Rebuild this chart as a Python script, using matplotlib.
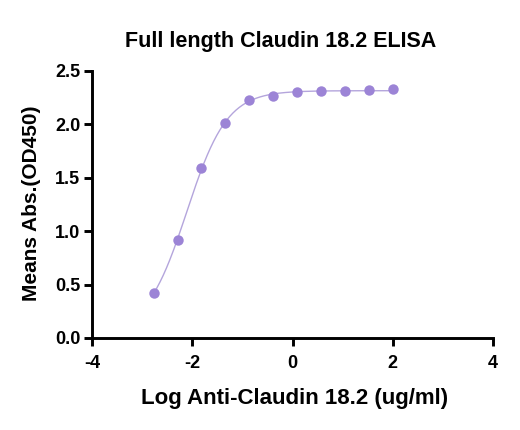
import numpy as np
import matplotlib
matplotlib.use("Agg")
import matplotlib.pyplot as plt

plt.rcParams['font.family'] = ['Liberation Sans', 'DejaVu Sans']
plt.rcParams['font.weight'] = 'bold'

title = "Full length Claudin 18.2 ELISA"
xlabel = "Log Anti-Claudin 18.2 (ug/ml)"
ylabel = "Means Abs.(OD450)"

log_conc = [-2.770, -2.293, -1.816, -1.339, -0.862, -0.385, 0.092, 0.569, 1.046, 1.523, 2.000]
od450 = [0.42, 0.92, 1.59, 2.01, 2.23, 2.27, 2.30, 2.31, 2.31, 2.32, 2.33]

x_ticks = [-4, -2, 0, 2, 4]
y_ticks = [0.0, 0.5, 1.0, 1.5, 2.0, 2.5]

x = np.array(log_conc)
y = np.array(od450)


def fourpl(xx, p):
    bottom, top, logec50, hill = p
    return bottom + (top - bottom) / (1 + 10 ** ((logec50 - xx) * hill))


# simple Gauss-Newton least-squares fit of a 4PL curve
p = np.array([0.0, 2.3, -2.0, 1.2])
for _ in range(200):
    r = y - fourpl(x, p)
    J = np.zeros((len(x), 4))
    for i in range(4):
        dp = np.zeros(4)
        dp[i] = 1e-6
        J[:, i] = (fourpl(x, p + dp) - fourpl(x, p - dp)) / 2e-6
    step, *_ = np.linalg.lstsq(J, r, rcond=None)
    p = p + 0.5 * step

xf = np.linspace(x.min(), x.max(), 300)

fig = plt.figure(figsize=(5.2, 4.3), dpi=100)
ax = fig.add_axes([0.177, 0.214, 0.771, 0.621])
ax.plot(xf, fourpl(xf, p), color='#b4a5dc', lw=1.0, zorder=2)
ax.plot(x, y, 'o', color='#9c84d6', markersize=7.5, markeredgewidth=0, zorder=3)

ax.set_xlim(-4, 4)
ax.set_ylim(0, 2.5)
ax.set_xticks(x_ticks)
ax.set_xticklabels([str(t) for t in x_ticks])
ax.set_yticks(y_ticks)
ax.set_yticklabels([f"{t:.1f}" for t in y_ticks])
for s in ['top', 'right']:
    ax.spines[s].set_visible(False)
for s in ['left', 'bottom']:
    ax.spines[s].set_linewidth(2.1)
ax.tick_params(width=2.1, length=5.5, labelsize=13)
ax.tick_params(axis='x', pad=7)
ax.tick_params(axis='y', pad=3)
for lbl in ax.get_xticklabels() + ax.get_yticklabels():
    lbl.set_fontweight('bold')

ax.set_xlabel(xlabel, fontsize=16, fontweight='bold', va='center', ha='center')
ax.xaxis.set_label_coords(0.504, -0.225)
ax.set_ylabel(ylabel, fontsize=15, fontweight='bold', va='center', ha='center')
ax.yaxis.set_label_coords(-0.152, 0.506)
fig.text(0.540, 0.891, title, ha='center', va='baseline', fontsize=15.5, fontweight='bold')

fig.savefig("out.png", dpi=100)
